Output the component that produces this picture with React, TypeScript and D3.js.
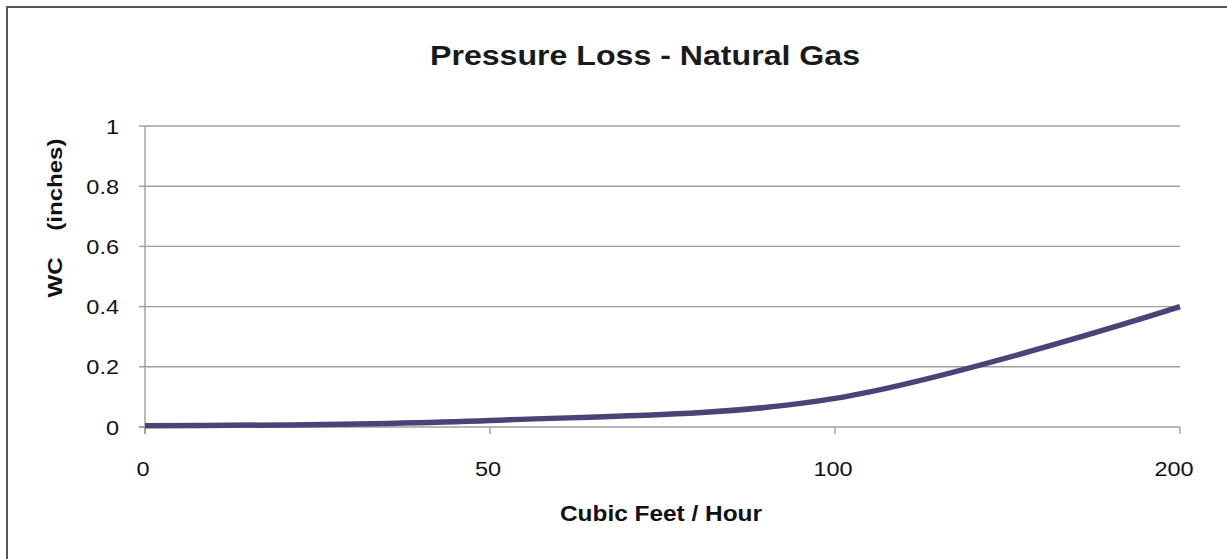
import React from 'react';
import * as d3 from 'd3';

// categories on x (evenly spaced, like Excel's category axis)
const flowRates = ['0', '50', '100', '200'];
// water column pressure loss (inches)
const pressureLoss = [0.004, 0.022, 0.095, 0.4];
const yTicks = [0, 0.2, 0.4, 0.6, 0.8, 1];

const W = 1227;
const H = 559;
const font = 'Arial, "Liberation Sans", Helvetica, sans-serif';
const gridColor = '#a19d9d';

// text slightly widened, the source picture is stretched sideways
const Wide = ({ x, y, anchor, size, bold, children }: any) => (
  <text
    transform={`translate(${x},${y}) scale(1.12,1)`}
    textAnchor={anchor}
    fontFamily={font}
    fontSize={size}
    fontWeight={bold ? 'bold' : 'normal'}
    fill="#111"
  >
    {children}
  </text>
);

const App = () => {
  const x = d3.scalePoint<string>().domain(flowRates).range([145, 1180]);
  const y = d3.scaleLinear().domain([0, 1]).range([427, 126]);

  const line = d3.line<number>()
    .x((_, i) => x(flowRates[i]) as number)
    .y(d => y(d))
    .curve(d3.curveCatmullRom.alpha(0.5));

  return (
    <svg width={W} height={H} style={{ position: 'absolute', left: 0, top: 0, background: '#fff' }}>
      <rect x={7} y={7} width={W + 20} height={H + 20} fill="#fff" stroke="#555" strokeWidth={2} />

      <text x={645} y={65} textAnchor="middle" fontFamily={font} fontWeight="bold" fontSize={28} fill="#1a1a1a"
        textLength={430} lengthAdjust="spacingAndGlyphs">
        Pressure Loss - Natural Gas
      </text>

      {/* gridlines + y ticks */}
      {yTicks.map(t => (
        <g key={t}>
          {t > 0 && <line x1={145} x2={1180} y1={y(t)} y2={y(t)} stroke={gridColor} strokeWidth={1.4} />}
          <line x1={139} x2={145} y1={y(t)} y2={y(t)} stroke={gridColor} strokeWidth={1.4} />
          <Wide x={119} y={y(t) + 7.5} anchor="end" size={21}>{t}</Wide>
        </g>
      ))}

      {/* y axis */}
      <line x1={145} x2={145} y1={y(1)} y2={y(0) + 7} stroke={gridColor} strokeWidth={1.4} />
      {/* x axis */}
      <line x1={139} x2={1180} y1={y(0)} y2={y(0)} stroke={gridColor} strokeWidth={1.6} />
      {flowRates.map((c, i) => (
        <g key={c}>
          <line x1={x(c)} x2={x(c)} y1={y(0)} y2={y(0) + 7} stroke={gridColor} strokeWidth={1.4} />
          <Wide x={(x(c) as number) - (i === flowRates.length - 1 ? 6 : 2)} y={476} anchor="middle" size={21}>{c}</Wide>
        </g>
      ))}

      <path d={line(pressureLoss) ?? ''} fill="none" stroke="#4a4377" strokeWidth={5.5} strokeLinejoin="round" />

      <text x={661} y={521} textAnchor="middle" fontFamily={font} fontWeight="bold" fontSize={22} fill="#111"
        textLength={202} lengthAdjust="spacingAndGlyphs">
        Cubic Feet / Hour
      </text>
      <text transform="translate(62,218) rotate(-90)" textAnchor="middle" fontFamily={font} fontWeight="bold" fontSize={21} fill="#111"
        textLength={159} lengthAdjust="spacingAndGlyphs" xmlSpace="preserve">
        {'WC    (inches)'}
      </text>
    </svg>
  );
};

export default App;
